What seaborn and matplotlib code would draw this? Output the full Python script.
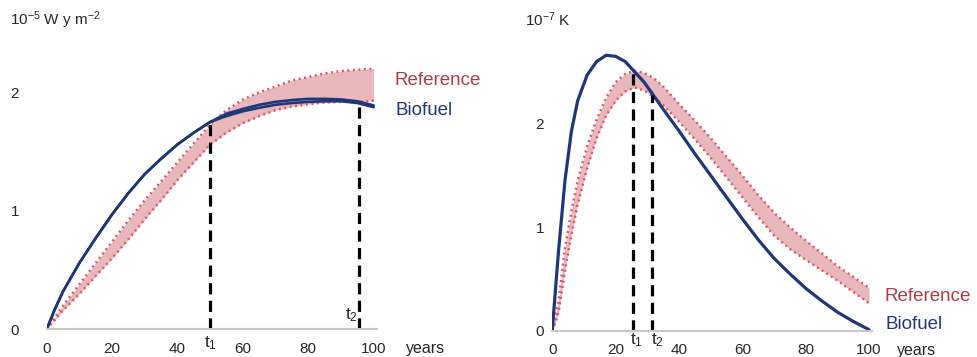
"""
Radiative forcing and temperature response: biofuel vs reference.
"""

import matplotlib
matplotlib.use("Agg")
import matplotlib.pyplot as plt
import seaborn as sns

# left panel: cumulative forcing, 10^-5 W y m^-2
years_forcing = [0, 2.5, 5, 10, 15, 20, 25, 30, 35, 40, 45, 50,
                 55, 60, 65, 70, 75, 80, 85, 90, 95, 100]
biofuel_forcing = [0, 0.17, 0.32, 0.56, 0.77, 0.97, 1.15, 1.31, 1.44, 1.56, 1.66, 1.75,
                   1.82, 1.86, 1.895, 1.92, 1.935, 1.945, 1.945, 1.94, 1.925, 1.89]
biofuel_forcing_b = [0, 0.17, 0.32, 0.56, 0.77, 0.97, 1.15, 1.31, 1.44, 1.56, 1.66, 1.75,
                     1.80, 1.84, 1.87, 1.895, 1.91, 1.92, 1.925, 1.925, 1.91, 1.875]
ref_forcing_hi = [0, 0.10, 0.20, 0.38, 0.56, 0.74, 0.92, 1.09, 1.25, 1.41, 1.57, 1.73,
                  1.85, 1.94, 2.00, 2.05, 2.10, 2.13, 2.16, 2.18, 2.19, 2.20]
ref_forcing_lo = [0, 0.08, 0.16, 0.30, 0.45, 0.60, 0.76, 0.93, 1.09, 1.26, 1.41, 1.56,
                  1.66, 1.74, 1.80, 1.85, 1.88, 1.90, 1.915, 1.92, 1.92, 1.93]
t_forcing = [50, 95.5]
t_forcing_top = [1.75, 1.925]

# right panel: temperature, 10^-7 K
years_temp = [0, 1, 2, 4, 6, 8, 11, 14, 17, 20, 23, 26, 29, 32, 35,
              40, 45, 50, 55, 60, 65, 70, 75, 80, 85, 90, 95, 100]
biofuel_temp = [0, 0.40, 0.78, 1.45, 1.92, 2.22, 2.47, 2.60, 2.66, 2.65, 2.60, 2.50, 2.40, 2.27, 2.14,
                1.93, 1.71, 1.50, 1.29, 1.08, 0.88, 0.70, 0.55, 0.41, 0.29, 0.18, 0.09, 0.01]
ref_temp_hi = [0, 0.15, 0.30, 0.80, 1.15, 1.45, 1.78, 2.04, 2.25, 2.40, 2.48, 2.51, 2.49, 2.44, 2.36,
               2.19, 2.03, 1.86, 1.68, 1.50, 1.31, 1.14, 1.00, 0.87, 0.75, 0.625, 0.52, 0.415]
ref_temp_lo = [0, 0.08, 0.18, 0.58, 0.92, 1.22, 1.57, 1.86, 2.08, 2.22, 2.31, 2.35, 2.32, 2.26, 2.18,
               2.02, 1.85, 1.67, 1.48, 1.29, 1.10, 0.92, 0.79, 0.685, 0.585, 0.485, 0.375, 0.265]
t_temp = [25.5, 31.5]
t_temp_top = [2.51, 2.28]

NAVY = "#1f3679"
RED_TXT = "#b23a4a"
BAND = "#e9b8bc"
DOTS = "#db5866"
AXIS = "#c8c8c8"

sns.set_style("white")
plt.rcParams["font.family"] = ["Liberation Sans", "DejaVu Sans"]
plt.rcParams["mathtext.default"] = "regular"

fig = plt.figure(figsize=(9.77, 3.57), dpi=100)
ax_l = fig.add_axes([0.0478, 0.0776, 0.338, 0.896])
ax_r = fig.add_axes([0.5653, 0.0737, 0.3274, 0.870])


def draw_panel(ax, years, bio, hi, lo, t_x, t_top, ylim, extra_bio=None):
    ax.fill_between(years, lo, hi, color=BAND, lw=0)
    for edge in (hi, lo):
        sns.lineplot(x=years, y=edge, ax=ax, color=DOTS, lw=1.8,
                     linestyle=(0, (0.8, 1.4)))
    if extra_bio is not None:
        sns.lineplot(x=years, y=extra_bio, ax=ax, color=NAVY, lw=1.9)
        sns.lineplot(x=years, y=bio, ax=ax, color=NAVY, lw=1.9)
    else:
        sns.lineplot(x=years, y=bio, ax=ax, color=NAVY, lw=2.3)
    for tx, ty in zip(t_x, t_top):
        ax.plot([tx, tx], [0, ty], color="black", lw=2.3, dashes=(3.5, 2))

    ax.set_xlim(0, 101)
    ax.set_ylim(*ylim)
    ax.set_xticks(range(0, 101, 20))
    ax.set_xticks(range(10, 101, 20), minor=True)
    ax.set_yticks([0, 1, 2])
    for s in ("left", "right", "top"):
        ax.spines[s].set_visible(False)
    ax.spines["bottom"].set_color(AXIS)
    ax.spines["bottom"].set_linewidth(1.5)
    ax.tick_params(axis="x", which="both", direction="in", length=4,
                   width=1.2, color=AXIS, labelsize=11, pad=9)
    ax.tick_params(axis="y", length=0, labelsize=11)
    ax.set_xlabel("")
    ax.set_ylabel("")


draw_panel(ax_l, years_forcing, biofuel_forcing, ref_forcing_hi, ref_forcing_lo,
           t_forcing, t_forcing_top, (0, 2.7), extra_bio=biofuel_forcing_b)
draw_panel(ax_r, years_temp, biofuel_temp, ref_temp_hi, ref_temp_lo,
           t_temp, t_temp_top, (0, 3.0))
ax_l.tick_params(axis="y", pad=20)
ax_r.tick_params(axis="y", pad=6)

# series labels
ax_l.text(106.3, 2.10, "Reference", color=RED_TXT, fontsize=13.5, va="center", clip_on=False)
ax_l.text(106.6, 1.85, "Biofuel", color=NAVY, fontsize=13.5, va="center", clip_on=False)
ax_r.text(105.0, 0.33, "Reference", color=RED_TXT, fontsize=13.5, va="center", clip_on=False)
ax_r.text(105.3, 0.055, "Biofuel", color=NAVY, fontsize=13.5, va="center", clip_on=False)

# years labels
ax_l.text(110, -0.16, "years", fontsize=11.5, va="center", clip_on=False)
ax_r.text(108.7, -0.19, "years", fontsize=11.5, va="center", clip_on=False)

# t1 / t2 markers
ax_l.text(t_forcing[0], -0.12, "t$_1$", fontsize=12.5, ha="center", va="center", clip_on=False)
ax_l.text(93.2, 0.12, "t$_2$", fontsize=12.5, ha="center", va="center", clip_on=False)
ax_r.text(26.6, -0.09, "t$_1$", fontsize=12.5, ha="center", va="center", clip_on=False)
ax_r.text(33.2, -0.09, "t$_2$", fontsize=12.5, ha="center", va="center", clip_on=False)

# units
fig.text(10 / 977, 1 - 20 / 357, "10$^{-5}$ W y m$^{-2}$", fontsize=11, va="center")
fig.text(525 / 977, 1 - 20 / 357, "10$^{-7}$ K", fontsize=11, va="center")

fig.savefig("out.png", dpi=100)
